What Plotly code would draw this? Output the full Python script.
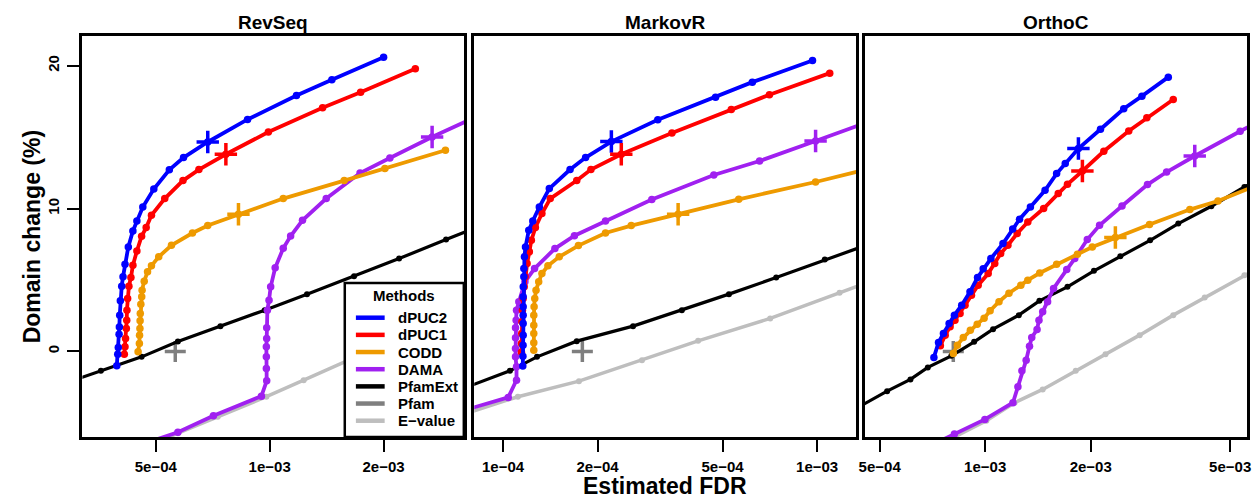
import plotly.graph_objects as go

# ---------------- data ----------------
panels = ["RevSeq", "MarkovR", "OrthoC"]
methods = ["dPUC2", "dPUC1", "CODD", "DAMA", "PfamExt", "Pfam", "E-value"]
colors = {"dPUC2": "#0000FF", "dPUC1": "#FF0000", "CODD": "#EE9A00",
          "DAMA": "#A020F0", "PfamExt": "#000000", "Pfam": "#7F7F7F",
          "E-value": "#BEBEBE"}

# RevSeq
rev_dpuc2_fdr = [3.944e-4, 3.967e-4, 3.98e-4, 3.999e-4, 4.006e-4, 4.015e-4, 4.03e-4, 4.064e-4, 4.096e-4,
                 4.146e-4, 4.23e-4, 4.35e-4, 4.457e-4, 4.62e-4, 4.94e-4, 5.43e-4, 5.92e-4, 6.86e-4,
                 8.74e-4, 1.177e-3, 1.46e-3, 2.0e-3]
rev_dpuc2_dc = [-1.00, -0.19, 0.28, 1.20, 1.71, 2.53, 3.54, 4.56, 5.22, 6.10, 7.31, 8.43, 9.13, 10.11,
                11.37, 12.72, 13.57, 14.66, 16.24, 17.92, 19.02, 20.60]
rev_dpuc1_fdr = [4.129e-4, 4.146e-4, 4.16e-4, 4.18e-4, 4.19e-4, 4.195e-4, 4.213e-4, 4.246e-4, 4.298e-4,
                 4.35e-4, 4.457e-4, 4.587e-4, 4.716e-4, 4.87e-4, 5.28e-4, 5.90e-4, 6.50e-4, 7.66e-4,
                 9.92e-4, 1.38e-3, 1.739e-3, 2.426e-3]
rev_dpuc1_dc = [-0.19, 0.32, 0.91, 1.61, 2.19, 2.89, 3.71, 4.57, 5.17, 6.03, 7.03, 8.06, 8.67, 9.53,
                10.70, 11.96, 12.73, 13.80, 15.36, 17.06, 18.15, 19.79]
rev_codd_fdr = [4.49e-4, 4.525e-4, 4.53e-4, 4.54e-4, 4.545e-4, 4.55e-4, 4.566e-4, 4.59e-4, 4.60e-4,
                4.66e-4, 4.756e-4, 4.87e-4, 5.09e-4, 5.50e-4, 6.25e-4, 6.86e-4, 8.27e-4, 1.086e-3,
                1.574e-3, 2.016e-3, 2.914e-3]
rev_codd_dc = [-0.03, 0.56, 1.14, 1.61, 2.14, 2.66, 3.31, 3.82, 4.29, 4.92, 5.57, 5.99, 6.62, 7.43,
               8.29, 8.81, 9.60, 10.70, 11.96, 12.80, 14.08]
rev_dama_fdr = [4.68e-4, 5.72e-4, 7.10e-4, 9.51e-4, 9.82e-4, 9.80e-4, 9.80e-4, 9.80e-4, 9.82e-4,
                9.82e-4, 9.86e-4, 9.96e-4, 1.006e-3, 1.034e-3, 1.086e-3, 1.136e-3, 1.221e-3, 1.411e-3,
                1.733e-3, 2.078e-3, 2.687e-3, 3.65e-3]
rev_dama_dc = [-6.43, -5.66, -4.50, -3.13, -2.06, -1.19, -0.38, 0.32, 0.91, 1.65, 2.89, 3.59, 4.52,
               5.85, 7.22, 8.08, 9.18, 10.70, 12.49, 13.54, 15.01, 16.63]
rev_pfamext_fdr = [2.80e-4, 3.58e-4, 4.587e-4, 5.72e-4, 7.41e-4, 9.70e-4, 1.255e-3, 1.671e-3, 2.198e-3,
                   2.925e-3, 3.88e-3]
rev_pfamext_dc = [-2.33, -1.36, -0.38, 0.70, 1.77, 2.89, 4.01, 5.27, 6.50, 7.83, 9.14]
rev_evalue_fdr = [4.40e-4, 5.72e-4, 7.29e-4, 9.80e-4, 1.23e-3, 1.615e-3, 2.185e-3, 2.955e-3, 3.88e-3]
rev_evalue_dc = [-6.97, -5.73, -4.57, -3.17, -2.01, -0.61, 0.93, 2.47, 3.87]
rev_pfam_fdr = [5.63e-4]
rev_pfam_dc = [0.0]
rev_cross_fdr = [6.86e-4, 7.66e-4, 8.27e-4, 2.687e-3]   # dPUC2, dPUC1, CODD, DAMA
rev_cross_dc = [14.66, 13.80, 9.60, 15.01]

# MarkovR
mar_dpuc2_fdr = [1.156e-4, 1.157e-4, 1.158e-4, 1.159e-4, 1.159e-4, 1.159e-4, 1.159e-4, 1.159e-4,
                 1.160e-4, 1.165e-4, 1.165e-4, 1.170e-4, 1.179e-4, 1.208e-4, 1.244e-4, 1.305e-4,
                 1.404e-4, 1.635e-4, 1.832e-4, 2.213e-4, 3.11e-4, 4.75e-4, 6.22e-4, 9.67e-4]
mar_dpuc2_dc = [-1.02, -0.33, 0.44, 1.14, 1.96, 2.54, 3.12, 3.82, 4.52, 5.22, 5.80, 6.62, 7.31, 8.48,
                9.13, 10.11, 11.40, 12.73, 13.57, 14.69, 16.22, 17.80, 18.85, 20.37]
mar_dpuc1_fdr = [1.145e-4, 1.145e-4, 1.147e-4, 1.149e-4, 1.153e-4, 1.159e-4, 1.168e-4, 1.176e-4,
                 1.193e-4, 1.213e-4, 1.231e-4, 1.268e-4, 1.330e-4, 1.414e-4, 1.717e-4, 1.905e-4,
                 2.38e-4, 3.45e-4, 5.33e-4, 7.05e-4, 1.097e-3]
mar_dpuc1_dc = [-0.05, 0.56, 1.26, 2.07, 2.89, 3.71, 4.52, 5.22, 6.15, 6.97, 7.78, 8.67, 9.65, 10.70,
                11.96, 12.73, 13.80, 15.29, 16.94, 17.97, 19.48]
mar_codd_fdr = [1.253e-4, 1.253e-4, 1.253e-4, 1.253e-4, 1.253e-4, 1.256e-4, 1.262e-4, 1.274e-4,
                1.299e-4, 1.330e-4, 1.39e-4, 1.51e-4, 1.738e-4, 2.12e-4, 2.56e-4, 3.61e-4, 5.63e-4,
                9.89e-4, 1.825e-3]
mar_codd_dc = [0.09, 0.60, 1.26, 1.84, 2.54, 3.12, 3.71, 4.29, 4.87, 5.45, 5.99, 6.62, 7.41, 8.29,
               8.81, 9.60, 10.65, 11.86, 13.31]
mar_dama_fdr = [6.43e-5, 1.039e-4, 1.104e-4, 1.104e-4, 1.096e-4, 1.096e-4, 1.096e-4, 1.096e-4,
                1.101e-4, 1.104e-4, 1.123e-4, 1.174e-4, 1.260e-4, 1.463e-4, 1.688e-4, 2.12e-4,
                2.977e-4, 4.69e-4, 6.56e-4, 9.89e-4, 1.825e-3]
mar_dama_dc = [-4.55, -3.22, -2.01, -1.08, -0.38, 0.21, 0.95, 1.65, 2.19, 2.89, 3.47, 4.87, 5.80,
               7.20, 8.10, 9.13, 10.63, 12.35, 13.33, 14.73, 16.85]
mar_pfamext_fdr = [6.43e-5, 1.052e-4, 1.283e-4, 1.717e-4, 2.594e-4, 3.71e-4, 5.24e-4, 7.41e-4,
                   1.058e-3, 1.521e-3]
mar_pfamext_dc = [-3.13, -1.36, -0.38, 0.72, 1.77, 2.89, 4.01, 5.17, 6.43, 7.64]
mar_evalue_fdr = [6.43e-5, 1.115e-4, 1.745e-4, 2.77e-4, 4.18e-4, 7.09e-4, 1.179e-3, 1.825e-3]
mar_evalue_dc = [-4.86, -3.17, -2.08, -0.61, 0.74, 2.31, 4.10, 5.64]
mar_pfam_fdr = [1.789e-4]
mar_pfam_dc = [0.0]
mar_cross_fdr = [2.213e-4, 2.38e-4, 3.61e-4, 9.89e-4]
mar_cross_dc = [14.69, 13.80, 9.60, 14.73]

# OrthoC
ort_dpuc2_fdr = [7.14e-4, 7.36e-4, 7.60e-4, 7.89e-4, 8.17e-4, 8.57e-4, 9.05e-4, 9.51e-4, 9.87e-4,
                 1.038e-3, 1.124e-3, 1.198e-3, 1.253e-3, 1.346e-3, 1.482e-3, 1.599e-3, 1.692e-3,
                 1.845e-3, 2.133e-3, 2.485e-3, 2.80e-3, 3.33e-3]
ort_dpuc2_dc = [-0.42, 0.63, 1.26, 1.96, 2.54, 3.24, 4.17, 5.17, 5.78, 6.50, 7.55, 8.57, 9.25, 10.11,
                11.28, 12.45, 13.15, 14.20, 15.55, 16.99, 17.87, 19.20]
ort_dpuc1_fdr = [7.45e-4, 7.69e-4, 7.94e-4, 8.20e-4, 8.48e-4, 8.76e-4, 9.14e-4, 9.55e-4, 1.020e-3,
                 1.065e-3, 1.107e-3, 1.161e-3, 1.234e-3, 1.323e-3, 1.468e-3, 1.616e-3, 1.717e-3,
                 1.894e-3, 2.18e-3, 2.568e-3, 2.892e-3, 3.44e-3]
ort_dpuc1_dc = [0.40, 1.14, 1.72, 2.19, 2.66, 3.24, 3.94, 4.64, 5.45, 6.15, 6.85, 7.43, 8.25, 9.06,
                10.00, 11.05, 11.70, 12.63, 14.01, 15.43, 16.36, 17.64]
ort_codd_fdr = [8.11e-4, 8.33e-4, 8.66e-4, 9.07e-4, 9.49e-4, 9.93e-4, 1.033e-3, 1.095e-3, 1.169e-3,
                1.264e-3, 1.323e-3, 1.431e-3, 1.599e-3, 1.833e-3, 2.021e-3, 2.352e-3, 2.943e-3,
                3.836e-3, 4.615e-3, 6.32e-3]
ort_codd_dc = [-0.14, 0.44, 0.97, 1.49, 1.91, 2.33, 2.85, 3.48, 4.08, 4.64, 4.99, 5.49, 6.10, 6.80,
               7.31, 7.97, 8.88, 9.93, 10.53, 11.89]
ort_dama_fdr = [6.46e-4, 8.17e-4, 9.98e-4, 1.20e-3, 1.240e-3, 1.273e-3, 1.309e-3, 1.338e-3, 1.358e-3,
                1.406e-3, 1.424e-3, 1.459e-3, 1.507e-3, 1.567e-3, 1.709e-3, 1.801e-3, 1.956e-3,
                2.12e-3, 2.457e-3, 2.905e-3, 3.294e-3, 3.962e-3, 5.34e-3, 6.75e-3]
ort_dama_dc = [-6.99, -5.78, -4.76, -3.59, -2.47, -1.36, -0.61, 0.37, 0.98, 1.54, 2.19, 2.77, 3.47,
               4.41, 5.73, 6.50, 7.83, 8.83, 10.18, 11.68, 12.56, 13.68, 15.41, 16.77]
ort_pfamext_fdr = [4.09e-4, 5.25e-4, 6.12e-4, 6.86e-4, 8.01e-4, 9.30e-4, 1.053e-3, 1.247e-3, 1.428e-3,
                   1.717e-3, 2.043e-3, 2.43e-3, 2.955e-3, 3.556e-3, 4.417e-3, 5.49e-3, 6.75e-3]
ort_pfamext_dc = [-4.27, -2.78, -1.96, -1.12, -0.31, 0.67, 1.56, 2.54, 3.54, 4.52, 5.64, 6.66, 7.78,
                  8.95, 10.16, 11.51, 12.73]
ort_evalue_fdr = [6.46e-4, 8.20e-4, 1.008e-3, 1.213e-3, 1.459e-3, 1.813e-3, 2.204e-3, 2.759e-3,
                  3.44e-3, 4.23e-3, 5.49e-3, 6.75e-3]
ort_evalue_dc = [-7.04, -5.97, -4.85, -3.59, -2.66, -1.36, -0.19, 1.14, 2.54, 3.78, 5.34, 6.52]
ort_pfam_fdr = [8.11e-4]
ort_pfam_dc = [0.0]
ort_cross_fdr = [1.845e-3, 1.894e-3, 2.352e-3, 3.962e-3]
ort_cross_dc = [14.20, 12.63, 7.97, 13.68]

x_ticks = [[5e-4, 1e-3, 2e-3], [1e-4, 2e-4, 5e-4, 1e-3], [5e-4, 1e-3, 2e-3, 5e-3]]
x_ticktext = [["5e\u221204", "1e\u221203", "2e\u221203"],
              ["1e\u221204", "2e\u221204", "5e\u221204", "1e\u221203"],
              ["5e\u221204", "1e\u221203", "2e\u221203", "5e\u221203"]]
x_ranges_log = [[-3.495, -2.4856], [-4.0916, -2.8756], [-3.3426, -2.2529]]
y_range = [-5.99, 22.08]
y_ticks = [0, 10, 20]

data = {
    "RevSeq": dict(dPUC2=(rev_dpuc2_fdr, rev_dpuc2_dc), dPUC1=(rev_dpuc1_fdr, rev_dpuc1_dc),
                   CODD=(rev_codd_fdr, rev_codd_dc), DAMA=(rev_dama_fdr, rev_dama_dc),
                   PfamExt=(rev_pfamext_fdr, rev_pfamext_dc), Pfam=(rev_pfam_fdr, rev_pfam_dc),
                   Evalue=(rev_evalue_fdr, rev_evalue_dc), cross=(rev_cross_fdr, rev_cross_dc)),
    "MarkovR": dict(dPUC2=(mar_dpuc2_fdr, mar_dpuc2_dc), dPUC1=(mar_dpuc1_fdr, mar_dpuc1_dc),
                    CODD=(mar_codd_fdr, mar_codd_dc), DAMA=(mar_dama_fdr, mar_dama_dc),
                    PfamExt=(mar_pfamext_fdr, mar_pfamext_dc), Pfam=(mar_pfam_fdr, mar_pfam_dc),
                    Evalue=(mar_evalue_fdr, mar_evalue_dc), cross=(mar_cross_fdr, mar_cross_dc)),
    "OrthoC": dict(dPUC2=(ort_dpuc2_fdr, ort_dpuc2_dc), dPUC1=(ort_dpuc1_fdr, ort_dpuc1_dc),
                   CODD=(ort_codd_fdr, ort_codd_dc), DAMA=(ort_dama_fdr, ort_dama_dc),
                   PfamExt=(ort_pfamext_fdr, ort_pfamext_dc), Pfam=(ort_pfam_fdr, ort_pfam_dc),
                   Evalue=(ort_evalue_fdr, ort_evalue_dc), cross=(ort_cross_fdr, ort_cross_dc)),
}

# ---------------- figure ----------------
W, H = 1256, 501
FONT = "Liberation Sans, Arial, sans-serif"
x_doms = [[77 / W, 462 / W], [472 / W, 857 / W], [866 / W, 1251 / W]]
y_dom = [64 / H, 465 / H]

fig = go.Figure()

for i, p in enumerate(panels):
    xa = "x" if i == 0 else f"x{i + 1}"
    ya = "y" if i == 0 else f"y{i + 1}"
    d = data[p]

    def add_curve(key, color, lw, ms):
        fx, dy = d[key]
        fig.add_trace(go.Scatter(x=fx, y=dy, mode="lines+markers", xaxis=xa, yaxis=ya,
                                 line=dict(color=color, width=lw), marker=dict(color=color, size=ms),
                                 showlegend=False, hoverinfo="skip"))

    add_curve("Evalue", colors["E-value"], 3.5, 6)
    fx, dy = d["Pfam"]
    fig.add_trace(go.Scatter(x=fx, y=dy, mode="markers", xaxis=xa, yaxis=ya, showlegend=False,
                             hoverinfo="skip",
                             marker=dict(symbol="cross-thin", size=15, color=colors["Pfam"],
                                         line=dict(color=colors["Pfam"], width=3.5))))
    add_curve("PfamExt", colors["PfamExt"], 3.2, 6)
    add_curve("DAMA", colors["DAMA"], 3.8, 7.5)
    add_curve("CODD", colors["CODD"], 3.8, 7.5)
    add_curve("dPUC1", colors["dPUC1"], 3.8, 7.5)
    add_curve("dPUC2", colors["dPUC2"], 3.8, 7.5)
    cfx, cdy = d["cross"]
    for j, m in enumerate(["dPUC2", "dPUC1", "CODD", "DAMA"]):
        fig.add_trace(go.Scatter(x=[cfx[j]], y=[cdy[j]], mode="markers", xaxis=xa, yaxis=ya,
                                 showlegend=False, hoverinfo="skip",
                                 marker=dict(symbol="cross-thin", size=16, color=colors[m],
                                             line=dict(color=colors[m], width=3.5))))

    axis_common = dict(showline=True, linecolor="black", linewidth=3, mirror=True,
                       showgrid=False, zeroline=False, ticks="outside", ticklen=12,
                       tickwidth=1.5, tickcolor="black",
                       tickfont=dict(family=FONT, size=15, color="black", weight="bold"))
    fig.update_layout(**{
        ("xaxis" if i == 0 else f"xaxis{i + 1}"): dict(
            type="log", range=x_ranges_log[i], domain=x_doms[i], anchor=ya,
            tickvals=x_ticks[i], ticktext=x_ticktext[i], ticklabelstandoff=2, **axis_common),
        ("yaxis" if i == 0 else f"yaxis{i + 1}"): dict(
            range=y_range, domain=y_dom, anchor=xa,
            tickvals=y_ticks if i == 0 else [], ticktext=[str(v) for v in y_ticks] if i == 0 else [],
            showticklabels=(i == 0), tickangle=-90, ticklabelstandoff=2,
            **{**axis_common, "ticks": "outside" if i == 0 else ""}),
    })
    fig.add_annotation(x=(x_doms[i][0] + x_doms[i][1]) / 2, y=1 - 22.5 / H, xref="paper", yref="paper",
                       text=f"<b>{p}</b>", showarrow=False, xanchor="center", yanchor="middle",
                       font=dict(family=FONT, size=19, color="black"))

# ---- legend box (drawn manually to match the compact R legend) ----
leg_x0, leg_x1, leg_top, leg_bot = 341.5, 461.5, 283.0, 437.0
fig.add_shape(type="rect", xref="paper", yref="paper", layer="above",
              x0=leg_x0 / W, x1=leg_x1 / W, y0=1 - leg_bot / H, y1=1 - leg_top / H,
              fillcolor="white", line=dict(color="black", width=2.5))
fig.add_annotation(x=401 / W, y=1 - 295.5 / H, xref="paper", yref="paper", showarrow=False,
                   text="<b>Methods</b>", xanchor="center", yanchor="middle",
                   font=dict(family=FONT, size=15, color="black"))
for k, m in enumerate(methods):
    yy = 317.7 + k * 17.17
    fig.add_shape(type="line", xref="paper", yref="paper", layer="above",
                  x0=352.7 / W, x1=381.7 / W, y0=1 - yy / H, y1=1 - yy / H,
                  line=dict(color=colors[m], width=4.5))
    fig.add_annotation(x=393 / W, y=1 - yy / H, xref="paper", yref="paper", showarrow=False,
                       text=f"<b>{m.replace('-', chr(0x2212))}</b>", xanchor="left", yanchor="middle",
                       font=dict(family=FONT, size=15, color="black"))

fig.add_annotation(x=26 / W, y=(y_dom[0] + y_dom[1]) / 2, xref="paper", yref="paper",
                   xanchor="center", yanchor="middle",
                   text="<b>Domain change (%)</b>", showarrow=False, textangle=-90,
                   font=dict(family=FONT, size=23, color="black"))
fig.add_annotation(x=664 / W, y=0, xref="paper", yref="paper",
                   xanchor="center", yanchor="bottom",
                   text="<b>Estimated FDR</b>", showarrow=False,
                   font=dict(family=FONT, size=23, color="black"))

fig.update_layout(
    width=W, height=H, margin=dict(l=0, r=0, t=0, b=0),
    paper_bgcolor="white", plot_bgcolor="white",
    showlegend=False,
)

fig.write_html("out.html", config={"displayModeBar": False},
               post_script="document.body.style.margin='0px';document.body.style.overflow='hidden';")
